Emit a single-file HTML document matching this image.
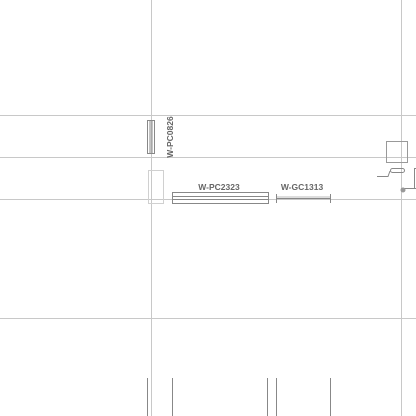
<!DOCTYPE html>
<html><head><style>body{margin:0;background:#fff}svg{display:block}</style></head><body>
<svg width="416" height="416" viewBox="0 0 416 416" xmlns="http://www.w3.org/2000/svg">
<g stroke="#c8c8c8" stroke-width="1" fill="none">
<line x1="0" y1="115.5" x2="416" y2="115.5"/>
<line x1="0" y1="157.5" x2="416" y2="157.5"/>
<line x1="0" y1="199.5" x2="416" y2="199.5"/>
<line x1="0" y1="318.5" x2="416" y2="318.5"/>
<line x1="151.5" y1="0" x2="151.5" y2="416"/>
<line x1="401.5" y1="0" x2="401.5" y2="416"/>
<rect x="148.5" y="170.5" width="15" height="33" stroke="#d0d0d0"/>
<rect x="386.5" y="141.5" width="21" height="21" stroke="#999"/>
</g>
<g stroke="#888" stroke-width="1" fill="none">
<rect x="147.5" y="120.5" width="7" height="33"/>
<line x1="150" y1="121" x2="150" y2="153"/><line x1="152" y1="121" x2="152" y2="153"/>
<rect x="172.5" y="192.5" width="96" height="11"/>
<line x1="173" y1="196.5" x2="268" y2="196.5"/><line x1="173" y1="199.5" x2="268" y2="199.5"/>
<line x1="276" y1="198.5" x2="330" y2="198.5"/><line x1="276" y1="197" x2="330" y2="197" stroke="#bbb"/>
<line x1="276.5" y1="194" x2="276.5" y2="203"/><line x1="330.5" y1="194" x2="330.5" y2="203"/>
<polyline points="377,176.5 388,176.5 390,171"/>
<rect x="390.5" y="168.5" width="14" height="4" rx="2"/>
<line x1="404" y1="188.5" x2="416" y2="188.5"/>
<rect x="414.5" y="168.5" width="3" height="20"/>
<line x1="147.5" y1="378" x2="147.5" y2="416"/>
<line x1="172.5" y1="378" x2="172.5" y2="416"/>
<line x1="267.5" y1="378" x2="267.5" y2="416"/>
<line x1="276.5" y1="378" x2="276.5" y2="416"/>
<line x1="330.5" y1="378" x2="330.5" y2="416"/>
</g>
<circle cx="403" cy="190" r="2.5" fill="#999"/>
<g font-family="Liberation Sans, sans-serif" font-size="8.5" font-weight="bold" fill="#666">
<text x="219" y="190" text-anchor="middle">W-PC2323</text>
<text x="302" y="190" text-anchor="middle">W-GC1313</text>
<text transform="translate(173,137) rotate(-90)" text-anchor="middle">W-PC0826</text>
</g>
</svg>
</body></html>
